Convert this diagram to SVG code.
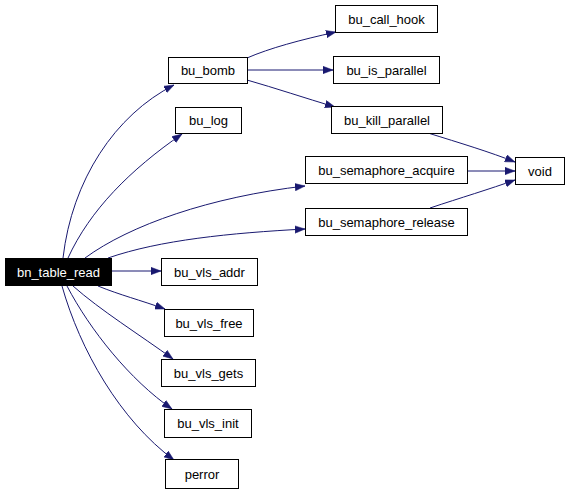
<svg xmlns="http://www.w3.org/2000/svg" width="568" height="493" viewBox="0 0 568 493">
<style>
.n rect{fill:#fff;stroke:#000;stroke-width:1}
.n text{font-family:"Liberation Sans",Arial,sans-serif;font-size:13px;text-anchor:middle;fill:#000}
#n_bn_table_read rect{fill:#000}
#n_bn_table_read text{fill:#fff}
.e path{fill:none;stroke:#191970;stroke-width:1;marker-end:url(#ah)}
</style>
<defs>
<marker id="ah" markerUnits="userSpaceOnUse" markerWidth="11" markerHeight="8" refX="10" refY="4" orient="auto" viewBox="0 0 11 8">
<path d="M0,0.3 L10,4 L0,7.7 z" fill="#191970" stroke="#191970" stroke-width="0.5"/>
</marker>
</defs>
<rect width="568" height="493" fill="#fff"/>
<g id="edges" class="e">
<path d="M63,258 C72,180 115,115 174,85"/>
<path d="M68,258 C90,210 130,170 182,134"/>
<path d="M85,258 C130,225 210,197 305,186"/>
<path d="M108,258 C160,240 230,233 305,229"/>
<path d="M111,271 L161,271"/>
<path d="M98,286 C120,295 140,300 165,309"/>
<path d="M73,286 C100,310 140,335 173,359"/>
<path d="M67,286 C90,330 130,380 172,409"/>
<path d="M62,286 C80,350 120,420 174,460"/>
<path d="M247,58 C270,48 300,40 336,32"/>
<path d="M247,70 L333,70"/>
<path d="M247,80 C275,88 305,98 335,107"/>
<path d="M428,133 C460,143 490,152 515,162"/>
<path d="M467,171 L515,171"/>
<path d="M430,208 C460,198 490,189 515,180"/>
</g>
<g id="n_bn_table_read" class="n"><rect x="5.5" y="258.5" width="106" height="27"/><text x="58.5" y="276.5">bn_table_read</text></g>
<g id="n_bu_bomb" class="n"><rect x="168.5" y="57.5" width="79" height="26"/><text x="208" y="75">bu_bomb</text></g>
<g id="n_bu_log" class="n"><rect x="175.5" y="107.5" width="66" height="26"/><text x="208.5" y="125">bu_log</text></g>
<g id="n_bu_call_hook" class="n"><rect x="335.5" y="5.5" width="102" height="27"/><text x="386.5" y="23.5">bu_call_hook</text></g>
<g id="n_bu_is_parallel" class="n"><rect x="333.5" y="56.5" width="106" height="27"/><text x="386.5" y="74.5">bu_is_parallel</text></g>
<g id="n_bu_kill_parallel" class="n"><rect x="331.5" y="106.5" width="111" height="27"/><text x="387" y="124.5">bu_kill_parallel</text></g>
<g id="n_bu_semaphore_acquire" class="n"><rect x="305.5" y="156.5" width="162" height="27"/><text x="386.5" y="174.5">bu_semaphore_acquire</text></g>
<g id="n_bu_semaphore_release" class="n"><rect x="305.5" y="208.5" width="162" height="27"/><text x="386.5" y="226.5">bu_semaphore_release</text></g>
<g id="n_void" class="n"><rect x="515.5" y="157.5" width="49" height="27"/><text x="540" y="175.5">void</text></g>
<g id="n_bu_vls_addr" class="n"><rect x="161.5" y="258.5" width="96" height="27"/><text x="209.5" y="276.5">bu_vls_addr</text></g>
<g id="n_bu_vls_free" class="n"><rect x="164.5" y="309.5" width="89" height="27"/><text x="209" y="327.5">bu_vls_free</text></g>
<g id="n_bu_vls_gets" class="n"><rect x="161.5" y="359.5" width="94" height="27"/><text x="208.5" y="377.5">bu_vls_gets</text></g>
<g id="n_bu_vls_init" class="n"><rect x="164.5" y="409.5" width="87" height="28"/><text x="208" y="428">bu_vls_init</text></g>
<g id="n_perror" class="n"><rect x="165.5" y="459.5" width="73" height="29"/><text x="202" y="478.5">perror</text></g>
</svg>
